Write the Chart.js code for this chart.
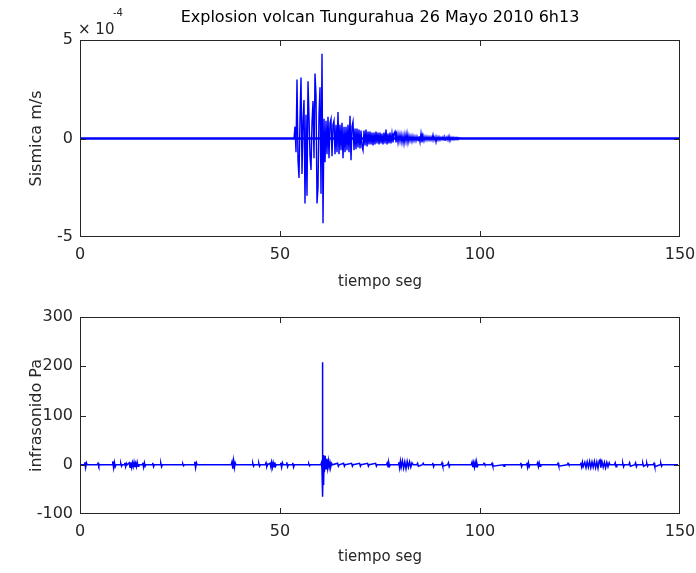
<!doctype html>
<html lang="es">
<head>
<meta charset="utf-8">
<title>Explosion volcan Tungurahua 26 Mayo 2010 6h13</title>
<script src="https://cdn.jsdelivr.net/npm/chart.js"></script>
<style>
  html, body { margin: 0; padding: 0; background: #fff; }
  #wrap { position: relative; width: 696px; height: 573px; }
  #top { position: absolute; left: 0; top: 0; }
  #bottom { position: absolute; left: 0; top: 290px; }
</style>
</head>
<body>
<div id="wrap">
  <canvas id="bottom" width="696" height="283"></canvas>
  <canvas id="top" width="696" height="300"></canvas>
</div>
<script>
// ---- data ----
const xTicks = [0, 50, 100, 150];
const sismicaTicks = [-5, 0, 5];          // x 10^-4 m/s
const infraTicks = [-100, 0, 100, 200, 300];

// seismic trace, units of 1e-4 m/s, one sample every 0.25 s from 53.5 s
const sismicaStart = 53.5;
const sismicaStep = 0.25;
const sismica = [
  0, 0.6, -0.7, 3.0, -1.1, -2.0, 1.0, 3.1, -1.8, 0.9,
  1.95, -3.3, 1.2, -2.9, 2.9, 1.1, -0.9, -1.6, 0.8, 1.9,
  -1.0, 3.3, 2.2, -3.3, -2.5, 1.2, 2.6, -2.8, 4.3, -4.3,
  1.0, -1.2, 0.9, -0.8, 1.1, -1.0, 0.8, 1.0, -0.9, 0.7,
  0.9, -0.8, 0.7, -0.7, 1.35, -0.8, 0.7, -0.6, 0.8, -1.0,
  0.6, -0.7, 0.6, -0.6, 0.7, -0.7, 1.15, -1.1, 0.6, 0.85,
  -0.6, 0.5, -0.55, 0.5, -0.45, 0.45, -0.5, 0.4, -0.4, -0.6,
  0.4, -0.35, 0.45, -0.4, 0.35, -0.3, 0.35, -0.3, 0.3, -0.35,
  0.3, -0.3, 0.35, -0.25, 0.3, -0.3, 0.3, -0.25, 0.25, -0.3,
  0.3, -0.25, 0.45, -0.3, 0.25, -0.25, 0.3, -0.25, 0.25, -0.2,
  0.25, 0.35, -0.2, 0.2, -0.2, 0.2, -0.15, 0.2, -0.2, 0.15,
  -0.25, 0.2, -0.15, 0.25, -0.2, 0.15, -0.12, 0.12, -0.15, 0.12,
  -0.12, 0.1, -0.12, 0.1, -0.1, 0.12, -0.18, 0.25, -0.2, 0.15,
  -0.12, 0.1, -0.08, 0.1, -0.08, 0.08, -0.08, 0.08, -0.08, 0.18,
  -0.08, 0.08, -0.18, 0.08, -0.08, 0.08, -0.08, 0.06, -0.06, 0.08,
  -0.08, 0.06, -0.06, 0.08, -0.08, 0.12, -0.12, 0.06, -0.06, 0.06,
  -0.06, 0.05, -0.05, 0.05, -0.05, 0.04, 0
];

// infrasound trace, Pa
const infraTime = [
  0, 1.0, 1.2, 1.4, 1.6, 1.8, 4.3, 4.5, 4.7, 4.9,
  8.0, 8.2, 8.4, 8.6, 8.8, 9.0, 10.0, 10.2, 10.4, 10.6,
  11.0, 11.2, 11.4, 11.6, 11.8, 12.3, 12.5, 12.7, 12.9, 13.1,
  13.3, 13.5, 13.7, 13.9, 14.1, 14.3, 14.5, 14.7, 15.5, 15.7,
  15.9, 16.1, 16.3, 16.5, 18.0, 18.2, 18.4, 18.6, 20.0, 20.2,
  20.4, 20.6, 25.5, 25.7, 25.9, 26.1, 28.5, 28.7, 28.9, 29.1,
  29.3, 37.8, 38.0, 38.2, 38.4, 38.6, 38.8, 39.0, 43.0, 43.2,
  43.4, 43.6, 44.5, 44.7, 44.9, 45.1, 46.3, 46.5, 46.7, 46.9,
  47.5, 47.7, 47.9, 48.1, 48.3, 48.5, 48.7, 48.9, 49.1, 50.0,
  50.2, 50.4, 50.6, 50.8, 51.5, 51.7, 51.9, 52.1, 53.0, 53.2,
  53.4, 53.6, 57.0, 57.2, 57.4, 57.6, 60.2, 60.4, 60.5, 60.6,
  60.7, 60.8, 60.9, 61.0, 61.1, 61.3, 61.5, 61.7, 61.9, 62.1,
  62.3, 62.5, 62.7, 62.9, 63.1, 64.4, 64.6, 64.8, 65.9, 66.1,
  66.3, 67.9, 68.1, 68.3, 69.9, 70.1, 70.3, 71.9, 72.1, 72.3,
  73.9, 74.1, 74.3, 76.6, 76.8, 77.0, 77.2, 77.4, 77.6, 79.5,
  79.7, 79.9, 80.1, 80.3, 80.6, 80.9, 81.2, 81.5, 81.8, 82.1,
  82.4, 82.7, 83.0, 83.3, 84.2, 84.4, 84.6, 85.6, 85.8, 86.0,
  88.0, 88.2, 88.4, 88.6, 90.3, 90.5, 90.7, 91.9, 92.1, 92.3,
  92.5, 97.8, 98.0, 98.2, 98.4, 98.6, 98.8, 99.0, 99.2, 99.4,
  99.6, 100.8, 101.0, 101.2, 102.8, 103.0, 103.2, 105.8, 106.0, 106.2,
  110.0, 110.2, 110.4, 110.6, 111.5, 111.7, 111.9, 112.1, 112.3, 112.5,
  114.2, 114.4, 114.6, 114.8, 115.0, 115.2, 119.3, 119.5, 119.7, 121.8,
  122.0, 122.2, 125.0, 125.2, 125.4, 125.6, 125.8, 126.2, 126.5, 126.8,
  127.1, 127.4, 127.7, 128.0, 128.3, 128.6, 128.9, 129.2, 129.5, 129.8,
  130.0, 130.2, 130.5, 130.8, 131.1, 131.4, 131.7, 132.0, 132.3, 132.5,
  133.6, 133.8, 134.0, 134.2, 135.5, 135.7, 135.9, 136.1, 137.2, 137.4,
  137.6, 138.7, 138.9, 139.1, 139.3, 140.5, 140.7, 140.9, 141.5, 141.7,
  141.9, 142.1, 143.3, 143.5, 143.7, 145.0, 145.2, 145.4, 145.6, 149.5
];
const infraValue = [
  0, 0, 5, -6, 4, 0, 0, 3, -3, 0,
  0, 7, -6, 5, -4, 0, 0, 3, -3, 0,
  0, 4, -4, 3, 0, 4, -5, 5, -5, 4,
  -4, 5, -5, 3, -4, 5, -3, 0, 0, 4,
  -5, 4, -3, 0, 0, 4, -4, 0, 0, 3,
  -4, 0, 0, 2, -2, 0, 0, 6, -6, 4,
  0, 0, 6, -8, 8, -6, 4, 0, 0, 3,
  -3, 0, 0, 3, -3, 0, 0, 4, -4, 0,
  3, -4, 5, -5, 4, -4, 5, -3, 0, 0,
  4, -5, 4, 0, 0, 5, -4, 0, 0, 4,
  -5, 0, 0, 2, -2, 0, 0, 5, -10, 208,
  -65, 20, -41, 10, -15, 18, -8, 12, -6, 8,
  -5, 5, -4, 3, 0, 3, -3, 0, 3, -3,
  0, 3, -3, 0, 3, -3, 0, 3, -3, 0,
  3, -3, 0, 0, 4, -4, 4, -3, 0, 0,
  5, -6, 7, -5, 8, -7, 6, -8, 7, -5,
  6, -5, 4, 0, 0, 3, -3, 0, 3, 0,
  0, 4, -4, 0, 0, 4, -3, 0, 4, -4,
  0, 0, 5, -5, 4, -5, 5, -4, 4, -3,
  0, 0, 3, 0, 0, 3, -3, 0, -3, 0,
  0, 4, -4, 0, 0, 4, -5, 4, -4, 0,
  0, 4, -4, 4, -3, 0, 0, 3, -3, 0,
  3, 0, 0, 4, -4, 5, -4, 5, -6, 6,
  -5, 7, -6, 6, -5, 7, -6, 6, -7, 8,
  10, -6, 6, -5, 5, -6, 5, -4, 4, 0,
  0, 4, -4, 0, 0, 3, -4, 0, 0, 4,
  -3, 0, 4, -4, 0, 0, 3, -3, 0, 3,
  -3, 0, 0, 3, -4, 0, 3, -3, 0, 0
];

// ---- chart setup ----
Chart.defaults.font.family = "'DejaVu Sans', sans-serif";
Chart.defaults.font.size = 16;
Chart.defaults.color = '#262626';
Chart.defaults.animation = false;

const AXIS = '#262626';
const BLUE = '#0000ff';

// inward tick marks on all four sides and a closed box, like matlab
const matlabAxes = {
  id: 'matlabAxes',
  afterDraw(chart) {
    const {ctx, chartArea: a, scales: {x, y}} = chart;
    ctx.save();
    ctx.strokeStyle = AXIS;
    ctx.lineWidth = 1;
    ctx.beginPath();
    x.ticks.forEach(t => {
      if (t.value === x.min || t.value === x.max) return;
      const px = Math.round(x.getPixelForValue(t.value)) + 0.5;
      ctx.moveTo(px, a.bottom); ctx.lineTo(px, a.bottom - 6);
      ctx.moveTo(px, a.top); ctx.lineTo(px, a.top + 6);
    });
    y.ticks.forEach(t => {
      if (t.value === y.min || t.value === y.max) return;
      const py = Math.round(y.getPixelForValue(t.value)) + 0.5;
      ctx.moveTo(a.left, py); ctx.lineTo(a.left + 6, py);
      ctx.moveTo(a.right, py); ctx.lineTo(a.right - 6, py);
    });
    ctx.stroke();
    ctx.strokeRect(a.left + 0.5, a.top + 0.5, a.right - a.left - 1, a.bottom - a.top - 1);
    ctx.restore();
  }
};

// "x 10^-4" multiplier above the top axis
const exponentLabel = {
  id: 'exponentLabel',
  afterDraw(chart) {
    const {ctx, chartArea: a} = chart;
    ctx.save();
    ctx.fillStyle = AXIS;
    ctx.textBaseline = 'alphabetic';
    ctx.font = "15px 'DejaVu Sans', sans-serif";
    ctx.fillText('\u00d7 10', a.left - 2, a.top - 6);
    ctx.font = "10px 'DejaVu Sans', sans-serif";
    ctx.fillText('-4', a.left + 33, a.top - 24);
    ctx.restore();
  }
};

function xScale(axisHeight, titlePad) {
  return {
    type: 'linear', min: 0, max: 150,
    afterBuildTicks: s => { s.ticks = xTicks.map(v => ({value: v})); },
    ticks: {padding: 8, maxRotation: 0, color: AXIS},
    grid: {display: false, drawTicks: false},
    border: {display: false},
    title: {display: true, text: 'tiempo seg', color: AXIS,
            font: {size: 15}, padding: {top: 0, bottom: titlePad}},
    afterFit: s => {
      s.height = axisHeight;
      s.paddingLeft = 0;
      s.paddingRight = 0;
    }
  };
}

function yScale(min, max, ticks, label) {
  return {
    type: 'linear', min: min, max: max,
    afterBuildTicks: s => { s.ticks = ticks.map(v => ({value: v})); },
    ticks: {padding: 7, color: AXIS},
    grid: {display: false, drawTicks: false},
    border: {display: false},
    title: {display: true, text: label, color: AXIS,
            font: {size: 16}, padding: {top: 27, bottom: 0}},
    afterFit: s => {
      s.width = 80;
      s.paddingTop = 0;
      s.paddingBottom = 0;
    }
  };
}

const seismicPoints = sismica.map((v, i) => ({x: sismicaStart + i * sismicaStep, y: v}));
const infraPoints = infraTime.map((t, i) => ({x: t, y: infraValue[i]}));

// top: sismica
new Chart(document.getElementById('top'), {
  type: 'line',
  data: {
    datasets: [
      {data: [{x: 0, y: 0}, {x: 150, y: 0}], borderColor: BLUE, borderWidth: 2.5,
       pointRadius: 0, tension: 0},
      {data: seismicPoints, borderColor: BLUE, borderWidth: 1.4,
       pointRadius: 0, tension: 0}
    ]
  },
  options: {
    responsive: false,
    layout: {padding: {top: 0, right: 16, bottom: 0, left: 0}},
    plugins: {
      legend: {display: false},
      tooltip: {enabled: false},
      title: {display: true, fullSize: false, color: '#000',
              text: 'Explosion volcan Tungurahua 26 Mayo 2010 6h13',
              font: {size: 16, weight: 'normal'},
              padding: {top: 8.4, bottom: 12.4}}
    },
    scales: {
      x: xScale(300 - 237, 9),
      y: yScale(-5, 5, sismicaTicks, 'Sismica m/s')
    }
  },
  plugins: [matlabAxes, exponentLabel]
});

// bottom: infrasonido
new Chart(document.getElementById('bottom'), {
  type: 'line',
  data: {
    datasets: [
      {data: infraPoints, borderColor: BLUE, borderWidth: 1.5,
       pointRadius: 0, tension: 0}
    ]
  },
  options: {
    responsive: false,
    layout: {padding: {top: 317 - 290, right: 16, bottom: 0, left: 0}},
    plugins: {
      legend: {display: false},
      tooltip: {enabled: false}
    },
    scales: {
      x: xScale(573 - 514, 7),
      y: yScale(-100, 300, infraTicks, 'infrasonido Pa')
    }
  },
  plugins: [matlabAxes]
});
</script>
</body>
</html>
